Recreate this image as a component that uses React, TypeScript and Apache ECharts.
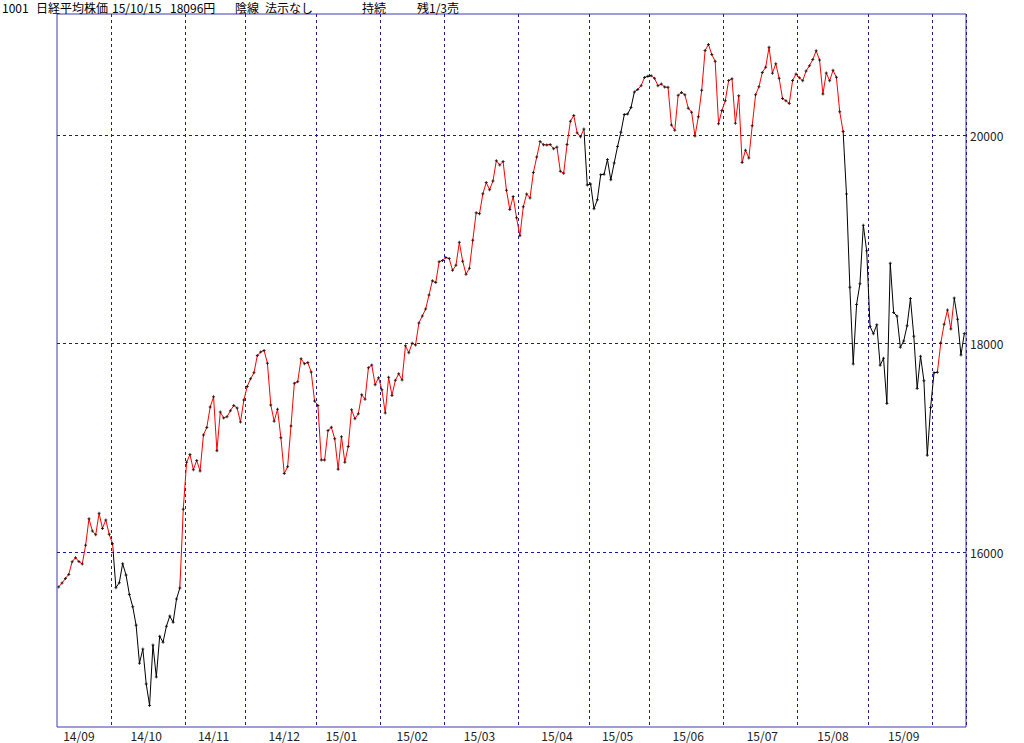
import React, { useEffect, useRef } from "react";
import * as echarts from "echarts";

// ---- Trading days (per month) and closing values ----
const months = ["14/09", "14/10", "14/11", "14/12", "15/01", "15/02", "15/03", "15/04", "15/05", "15/06", "15/07", "15/08", "15/09", "15/10"];

const days1409 = [5, 8, 9, 10, 11, 12, 16, 17, 18, 19, 22, 24, 25, 26, 29, 30];
const days1410 = [1, 2, 3, 6, 7, 8, 9, 10, 14, 15, 16, 17, 20, 21, 22, 23, 24, 27, 28, 29, 30, 31];
const days1411 = [4, 5, 6, 7, 10, 11, 12, 13, 14, 17, 18, 19, 20, 21, 25, 26, 27, 28];
const days1412 = [1, 2, 3, 4, 5, 8, 9, 10, 11, 12, 15, 16, 17, 18, 19, 22, 24, 25, 26, 29, 30];
const days1501 = [5, 6, 7, 8, 9, 13, 14, 15, 16, 19, 20, 21, 22, 23, 26, 27, 28, 29, 30];
const days1502 = [2, 3, 4, 5, 6, 9, 10, 12, 13, 16, 17, 18, 19, 20, 23, 24, 25, 26, 27];
const days1503 = [2, 3, 4, 5, 6, 9, 10, 11, 12, 13, 16, 17, 18, 19, 20, 23, 24, 25, 26, 27, 30, 31];
const days1504 = [1, 2, 3, 6, 7, 8, 9, 10, 13, 14, 15, 16, 17, 20, 21, 22, 23, 24, 27, 28, 30];
const days1505 = [1, 7, 8, 11, 12, 13, 14, 15, 18, 19, 20, 21, 22, 25, 26, 27, 28, 29];
const days1506 = [1, 2, 3, 4, 5, 8, 9, 10, 11, 12, 15, 16, 17, 18, 19, 22, 23, 24, 25, 26, 29, 30];
const days1507 = [1, 2, 3, 6, 7, 8, 9, 10, 13, 14, 15, 16, 17, 21, 22, 23, 24, 27, 28, 29, 30, 31];
const days1508 = [3, 4, 5, 6, 7, 10, 11, 12, 13, 14, 17, 18, 19, 20, 21, 24, 25, 26, 27, 28, 31];
const days1509 = [1, 2, 3, 4, 7, 8, 9, 10, 11, 14, 15, 16, 17, 18, 24, 25, 28, 29, 30];
const days1510 = [1, 2, 5, 6, 7, 8, 9, 13, 14, 15];

const close1409 = [15668, 15705, 15749, 15788, 15909, 15948, 15911, 15888, 16067, 16321, 16205, 16167, 16374, 16229, 16310, 16173];
const close1410 = [16082, 15661, 15708, 15891, 15783, 15595, 15478, 15300, 14936, 15073, 14738, 14532, 15111, 14804, 15195, 15138, 15291, 15388, 15329, 15553, 15658, 16413];
const close1411 = [16862, 16937, 16792, 16880, 16780, 17124, 17197, 17392, 17490, 16973, 17344, 17288, 17300, 17357, 17407, 17383, 17248, 17459];
const close1412 = [17590, 17663, 17720, 17887, 17920, 17935, 17813, 17412, 17257, 17371, 17099, 16755, 16819, 17210, 17621, 17635, 17854, 17808, 17818, 17729, 17451];
const close1501 = [17408, 16884, 16885, 17167, 17198, 17088, 16796, 17108, 16864, 17014, 17366, 17280, 17329, 17511, 17468, 17768, 17795, 17606, 17674];
const close1502 = [17558, 17335, 17678, 17504, 17648, 17711, 17652, 17979, 17913, 18004, 17987, 18199, 18264, 18332, 18466, 18603, 18585, 18785, 18797];
const close1503 = [18826, 18815, 18703, 18751, 18971, 18790, 18665, 18723, 18991, 19254, 19246, 19437, 19544, 19476, 19560, 19754, 19713, 19746, 19471, 19285, 19411, 19206];
const close1504 = [19034, 19312, 19435, 19397, 19640, 19789, 19937, 19907, 19905, 19908, 19869, 19885, 19652, 19634, 19909, 20133, 20187, 20020, 19983, 20058, 19520];
const close1505 = [19531, 19292, 19379, 19620, 19624, 19765, 19570, 19732, 19890, 20026, 20196, 20202, 20264, 20413, 20437, 20473, 20551, 20563];
const close1506 = [20569, 20543, 20473, 20488, 20460, 20457, 20096, 20046, 20382, 20407, 20387, 20257, 20219, 19990, 20174, 20428, 20809, 20868, 20771, 20706, 20109, 20235];
const close1507 = [20329, 20522, 20539, 20112, 20376, 19737, 19855, 19779, 20089, 20385, 20463, 20600, 20650, 20841, 20593, 20683, 20544, 20350, 20328, 20303, 20522, 20585];
const close1508 = [20548, 20520, 20614, 20664, 20724, 20808, 20720, 20392, 20595, 20519, 20620, 20554, 20222, 20033, 19435, 18540, 17806, 18376, 18574, 19136, 18890];
const close1509 = [18165, 18095, 18182, 17792, 17860, 17427, 18770, 18299, 18264, 17965, 18026, 18171, 18432, 18070, 17571, 17880, 17645, 16930, 17388];
const close1510 = [17722, 17725, 18005, 18186, 18322, 18141, 18438, 18234, 17891, 18096];

const monthDays = [days1409, days1410, days1411, days1412, days1501, days1502, days1503, days1504, days1505, days1506, days1507, days1508, days1509, days1510];
const monthCloses = [close1409, close1410, close1411, close1412, close1501, close1502, close1503, close1504, close1505, close1506, close1507, close1508, close1509, close1510];

// Dates under which the month names are printed
const labelDates = ["14/09/16", "14/10/16", "14/11/14", "14/12/16", "15/01/15", "15/02/16", "15/03/16", "15/04/16", "15/05/18", "15/06/16", "15/07/16", "15/08/17", "15/09/15"];

// Line colour sections (start date, end date, red = rising state)
const sections: [string, string, boolean][] = [
  ["14/09/05", "14/10/01", true],
  ["14/10/01", "14/10/30", false],
  ["14/10/30", "15/04/28", true],
  ["15/04/28", "15/05/26", false],
  ["15/05/26", "15/05/28", true],
  ["15/05/28", "15/06/01", false],
  ["15/06/01", "15/08/20", true],
  ["15/08/20", "15/10/02", false],
  ["15/10/02", "15/10/09", true],
  ["15/10/09", "15/10/15", false],
];

const yTicks = [16000, 18000, 20000];

const titleParts: [string, number][] = [
  ["1001", 2],
  ["日経平均株価", 36],
  ["15/10/15", 112],
  ["18096円", 170],
  ["陰線", 235],
  ["法示なし", 265],
  ["持続", 362],
  ["残1/3売", 417],
];

const pad = (n: number) => (n < 10 ? "0" + n : "" + n);

export default function App() {
  const ref = useRef<HTMLDivElement>(null);

  useEffect(() => {
    if (!ref.current) return;
    const chart = echarts.init(ref.current, undefined, { renderer: "svg" });

    const categories: string[] = [];
    const values: number[] = [];
    const monthStart = new Set<number>();
    months.forEach((m, mi) => {
      if (mi > 0) monthStart.add(categories.length);
      monthDays[mi].forEach((d, di) => {
        categories.push(m + "/" + pad(d));
        values.push(monthCloses[mi][di]);
      });
    });
    const labelIdx = new Set(labelDates.map((d) => categories.indexOf(d)));

    const pieces = sections.map(([a, b, up], i) => {
      const ia = categories.indexOf(a);
      const ib = categories.indexOf(b);
      const p: any = { lte: ib, color: up ? "#ff0000" : "#000000" };
      if (i === 0) p.gte = ia;
      else p.gt = ia;
      return p;
    });

    const font = '"Noto Sans CJK JP", "Noto Sans", sans-serif';

    chart.setOption({
      animation: false,
      backgroundColor: "#ffffff",
      grid: {
        left: 57,
        right: 58,
        top: 14,
        bottom: 16,
        show: true,
        borderColor: "#3c3caa",
        borderWidth: 1,
        containLabel: false,
      },
      xAxis: {
        type: "category",
        data: categories,
        boundaryGap: true,
        axisLine: { show: false },
        axisTick: { show: false },
        axisLabel: {
          interval: (i: number) => labelIdx.has(i),
          formatter: (v: string) => v.slice(0, 5),
          color: "#222",
          fontSize: 12,
          lineHeight: 12,
          fontFamily: font,
          margin: 2,
        },
        splitLine: {
          show: true,
          interval: (i: number) => monthStart.has(i),
          lineStyle: { color: "#1a1a9a", type: [3, 3], width: 1 },
        },
      },
      yAxis: {
        type: "value",
        position: "right",
        min: 14325,
        max: 21160,
        axisLine: { show: false },
        axisTick: { show: false, customValues: yTicks },
        axisLabel: {
          customValues: yTicks,
          formatter: (v: number) => String(v),
          color: "#222",
          fontSize: 12,
          fontFamily: font,
          margin: 4,
        },
        splitLine: {
          show: true,
          lineStyle: { color: "#1a1a9a", type: [3, 3], width: 1 },
        },
      },
      visualMap: {
        show: false,
        type: "piecewise",
        dimension: 0,
        seriesIndex: 0,
        pieces,
        outOfRange: { color: "#000" },
      },
      series: [
        {
          type: "line",
          data: values,
          showSymbol: false,
          symbol: "none",
          lineStyle: { width: 1 },
          z: 2,
        },
        {
          type: "scatter",
          data: values,
          symbol: "path://M1 0H2V1H3V2H2V3H1V2H0V1H1Z",
          symbolSize: 3,
          itemStyle: { color: "#000" },
          z: 3,
        },
      ],
      graphic: titleParts.map(([t, x]) => ({
        type: "text",
        x,
        y: 7,
        style: {
          text: t,
          fill: "#000",
          fontSize: 12,
          fontFamily: font,
          textVerticalAlign: "middle",
        },
      })),
    });

    return () => chart.dispose();
  }, []);

  return (
    <div
      ref={ref}
      style={{ position: "fixed", left: 0, top: 0, width: 1024, height: 743, background: "#fff" }}
    />
  );
}
